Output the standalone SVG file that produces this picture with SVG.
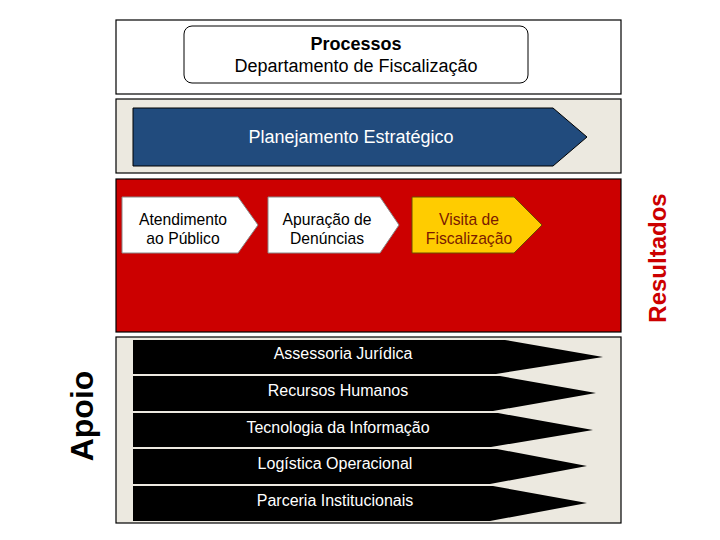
<svg xmlns="http://www.w3.org/2000/svg" width="720" height="540" viewBox="0 0 720 540">
<style>
text{font-family:"Liberation Sans",Arial,sans-serif;}
.panel{stroke:#000;stroke-width:1.2;}
.t16{font-size:18px;text-anchor:middle;}
.t14{font-size:15.7px;text-anchor:middle;}
.sup{fill:#000;}
.supt{font-size:16px;fill:#fff;text-anchor:middle;}
</style>
<rect width="720" height="540" fill="#fff"/>
<g id="processos">
<rect class="panel" x="116" y="20" width="505" height="74" fill="#fff"/>
<rect x="184" y="26" width="344" height="57" rx="8" fill="#fff" stroke="#000" stroke-width="1"/>
<text class="t16" x="356" y="50" font-weight="bold">Processos</text>
<text class="t16" x="356" y="72">Departamento de Fiscalização</text>
</g>
<g id="planejamento">
<rect class="panel" x="116" y="99" width="505" height="74" fill="#ECE9E0"/>
<polygon points="133,108 553,108 587,137 553,166 133,166" fill="#214B7D" stroke="#000" stroke-width="1"/>
<text class="t16" x="351" y="143" fill="#fff">Planejamento Estratégico</text>
</g>
<g id="fim">
<rect class="panel" x="116" y="179" width="505" height="153" fill="#CC0000"/>
</g>
<g id="atendimento">
<polygon points="122,197 238,197 258,225 238,253 122,253" fill="#fff" stroke="#888" stroke-width="1"/>
<text class="t14" x="183" y="225">Atendimento</text>
<text class="t14" x="183" y="244">ao Público</text>
</g>
<g id="apuracao">
<polygon points="268,197 380,197 399,225 380,253 268,253" fill="#fff" stroke="#888" stroke-width="1"/>
<text class="t14" x="327" y="225">Apuração de</text>
<text class="t14" x="327" y="244">Denúncias</text>
</g>
<g id="visita">
<polygon points="412,197 514,197 542,225 514,253 412,253" fill="#FFCC00" stroke="#6a4a00" stroke-width="1"/>
<text class="t14" x="469" y="225" fill="#7a1a00">Visita de</text>
<text class="t14" x="469" y="244" fill="#7a1a00">Fiscalização</text>
</g>
<g id="apoio-panel">
<rect class="panel" x="116" y="337" width="505" height="186" fill="#ECE9E0"/>
</g>
<g id="assessoria">
<polygon class="sup" points="133,340 505,340 603,357 496,374 133,374"/>
<text class="supt" x="343" y="359">Assessoria Jurídica</text>
</g>
<g id="recursos">
<polygon class="sup" points="133,376 500,376 596,393 493,411 133,411"/>
<text class="supt" x="338" y="396">Recursos Humanos</text>
</g>
<g id="tecnologia">
<polygon class="sup" points="133,413 498,413 593,430 491,447 133,447"/>
<text class="supt" x="338" y="433">Tecnologia da Informação</text>
</g>
<g id="logistica">
<polygon class="sup" points="133,449 497,449 587,466 490,484 133,484"/>
<text class="supt" x="335" y="469">Logística Operacional</text>
</g>
<g id="parceria">
<polygon class="sup" points="133,486 493,486 587,503 490,521 133,521"/>
<text class="supt" x="335" y="506">Parceria Institucionais</text>
</g>
<g id="labels">
<text transform="translate(93,416) rotate(-90)" font-size="32" font-weight="bold" text-anchor="middle" fill="#000">Apoio</text>
<text transform="translate(666,258) rotate(-90)" font-size="24" font-weight="bold" text-anchor="middle" fill="#CC0000">Resultados</text>
</g>
<g id="connectors"></g>
</svg>
